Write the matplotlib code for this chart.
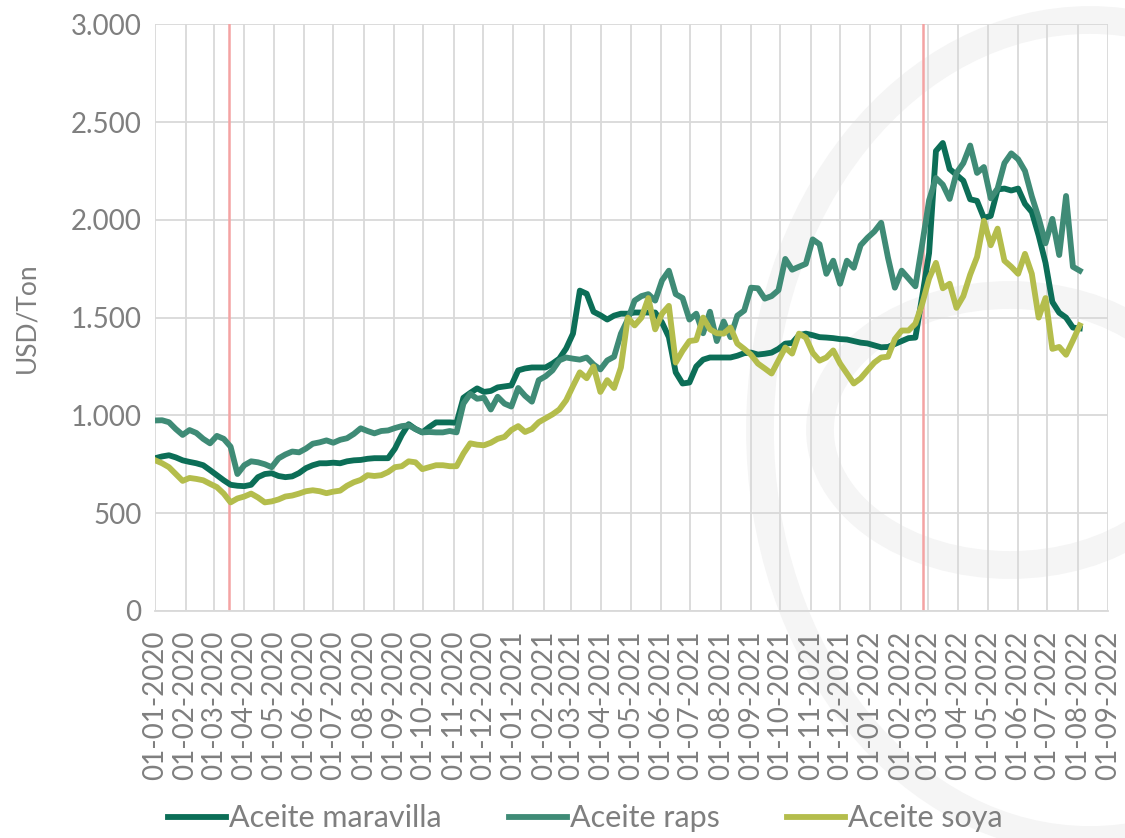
import matplotlib
matplotlib.use("Agg")
import matplotlib.pyplot as plt
import matplotlib.dates as mdates
from matplotlib.patches import Ellipse
from matplotlib.ticker import FuncFormatter
import pandas as pd

dates = pd.date_range("2020-01-01", periods=136, freq="7D")

maravilla = [
    781, 790, 796, 785, 770, 762, 755, 745, 720, 694, 668, 645, 640, 638, 645, 684,
    700, 704, 690, 684, 688, 705, 730, 745, 755, 755, 758, 755, 765, 770, 772, 778,
    781, 781, 781, 830, 900, 955, 930, 913, 940, 964, 964, 964, 962, 1090, 1115, 1138,
    1120, 1125, 1143, 1148, 1153, 1230, 1240, 1245, 1245, 1245, 1265, 1290, 1342, 1418,
    1638, 1622, 1530, 1512, 1490, 1510, 1520, 1520, 1526, 1526, 1526, 1526, 1475, 1400,
    1220, 1163, 1168, 1250, 1285, 1296, 1296, 1296, 1296, 1305, 1318, 1321, 1311, 1315,
    1321, 1340, 1367, 1370, 1410, 1418, 1410, 1400, 1398, 1395, 1390, 1388, 1380, 1372,
    1368, 1358, 1348, 1350, 1365, 1380, 1395, 1398, 1610, 1830, 2352, 2393, 2260, 2230,
    2200, 2105, 2097, 2010, 2020, 2155, 2160, 2150, 2160, 2082, 2040, 1920, 1780, 1580,
    1525, 1500, 1449, 1445,
]

raps = [
    974, 975, 965, 930, 900, 925, 910, 880, 857, 895, 880, 840, 700, 745, 765, 760,
    750, 735, 780, 800, 815, 811, 830, 855, 862, 872, 860, 875, 883, 905, 934, 920,
    908, 920, 923, 935, 945, 949, 930, 913, 915, 913, 913, 920, 913, 1060, 1110, 1085,
    1090, 1030, 1095, 1060, 1045, 1140, 1100, 1070, 1180, 1200, 1230, 1281, 1296, 1290,
    1285, 1296, 1260, 1235, 1281, 1300, 1418, 1490, 1587, 1610, 1620, 1587, 1690, 1740,
    1620, 1600, 1490, 1520, 1420, 1530, 1380, 1480, 1400, 1510, 1536, 1653, 1650, 1597,
    1610, 1640, 1800, 1745, 1760, 1775, 1900, 1875, 1724, 1791, 1673, 1791, 1755, 1870,
    1908, 1940, 1985, 1806, 1653, 1740, 1700, 1660, 1877, 2100, 2214, 2180, 2107, 2240,
    2290, 2380, 2240, 2270, 2110, 2160, 2290, 2340, 2310, 2250, 2120, 2010, 1880, 2005,
    1820, 2122, 1760, 1740,
]

soya = [
    770, 755, 735, 700, 665, 680, 675, 668, 650, 633, 600, 555, 575, 585, 600, 580,
    555, 560, 570, 585, 590, 600, 612, 617, 612, 602, 610, 615, 640, 658, 670, 694,
    690, 694, 710, 735, 740, 765, 760, 725, 735, 745, 745, 740, 740, 805, 857, 850,
    847, 860, 880, 890, 925, 945, 915, 930, 965, 985, 1005, 1030, 1077, 1150,
    1220, 1190, 1250, 1120, 1180, 1140, 1245, 1500, 1460, 1500, 1600, 1440, 1520, 1560,
    1270, 1330, 1380, 1385, 1500, 1440, 1420, 1418, 1449, 1367, 1340, 1310, 1265, 1240,
    1214, 1280, 1347, 1316, 1418, 1398, 1320, 1280, 1296, 1332, 1265, 1214, 1163, 1189,
    1230, 1270, 1296, 1300, 1390, 1434, 1434, 1469, 1571, 1700, 1780, 1650, 1673, 1550,
    1610, 1720, 1810, 1995, 1870, 1955, 1791, 1760, 1724, 1826, 1724, 1500, 1600, 1340,
    1350, 1310, 1383, 1460,
]

events = ["2020-03-16", "2022-02-24"]

grey = "#7f7f7f"
plt.rcParams['font.family'] = ['Lato', 'DejaVu Sans']

W, H = 1125, 838
fig = plt.figure(figsize=(W / 100, H / 100), dpi=100)
ax = fig.add_axes([0.138, 0.271, 0.847, 0.700])

# faint logo watermark behind the plot (two rings)
for cx, cy, rw, rh in [(1090, 430, 330, 410), (1010, 430, 190, 135)]:
    ring = Ellipse((cx / W, 1 - cy / H), 2 * rw / W, 2 * rh / H,
                   transform=fig.transFigure, fill=False,
                   edgecolor="#f5f5f5", linewidth=20, zorder=-1)
    fig.add_artist(ring)

ax.plot(dates, maravilla, color="#0c6e57", lw=4.2, label="Aceite maravilla", zorder=3)
ax.plot(dates, raps, color="#3f8b76", lw=4.2, label="Aceite raps", zorder=3)
ax.plot(dates, soya, color="#b4bd4c", lw=4.2, label="Aceite soya", zorder=3)

for d in events:
    ax.axvline(pd.Timestamp(d), color="#f4a3a3", lw=1.8, zorder=2)

ax.set_ylim(0, 3000)
ax.set_xlim(pd.Timestamp("2020-01-01"), pd.Timestamp("2022-09-01"))
ax.set_yticks(range(0, 3001, 500))
ax.yaxis.set_major_formatter(FuncFormatter(lambda v, p: f"{int(v):,}".replace(",", ".")))
ax.xaxis.set_major_locator(mdates.MonthLocator())
ax.xaxis.set_major_formatter(mdates.DateFormatter("%d-%m-%Y"))

ax.grid(True, color="#d9d9d9", lw=1.3, zorder=1)
ax.set_axisbelow(True)
ax.patch.set_alpha(0)
for s in ax.spines.values():
    s.set_visible(False)
ax.spines['bottom'].set_visible(True)
ax.spines['bottom'].set_color("#d9d9d9")
ax.spines['bottom'].set_linewidth(1.3)

ax.tick_params(axis='both', length=0, colors=grey, labelsize=20)
ax.tick_params(axis='x', rotation=90, pad=14)
ax.tick_params(axis='y', pad=10)
ax.set_ylabel("USD/Ton", color=grey, fontsize=19, labelpad=22)

fig.legend(loc="lower center", bbox_to_anchor=(0.52, -0.026), ncol=3, frameon=False,
           fontsize=22, labelcolor=grey, handlelength=1.9, handletextpad=0.1,
           columnspacing=2.2)

fig.savefig("out.png", dpi=100)
